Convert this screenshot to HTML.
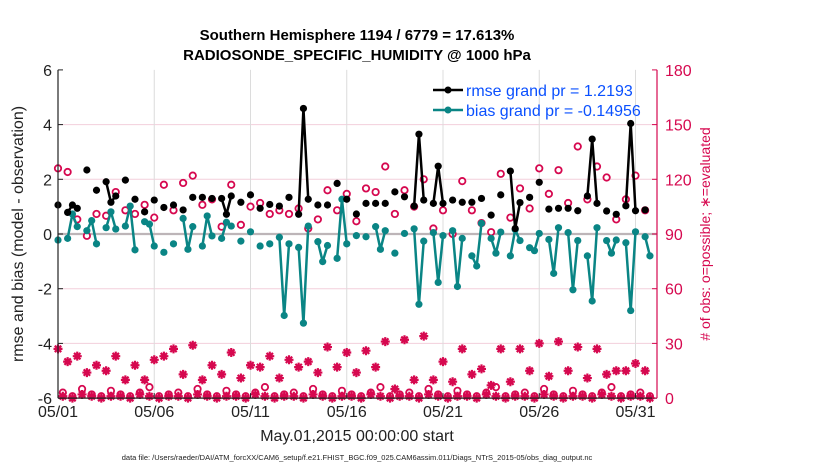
<!DOCTYPE html>
<html><head><meta charset="utf-8"><style>
body{margin:0;background:#fff;}
svg{display:block;font-family:"Liberation Sans",Arial,sans-serif;}
</style></head><body>
<svg id="chart" width="830" height="470" viewBox="0 0 830 470" xmlns="http://www.w3.org/2000/svg">
<rect width="830" height="470" fill="#fff"/>
<g id="grid"></g>
<g id="marks"></g>
<g id="axes"></g>
<text x="357" y="40" text-anchor="middle" font-size="15" font-weight="bold">Southern Hemisphere 1194 / 6779 = 17.613%</text>
<text x="357" y="60" text-anchor="middle" font-size="15" font-weight="bold">RADIOSONDE_SPECIFIC_HUMIDITY @ 1000 hPa</text>
<text x="357" y="441" text-anchor="middle" font-size="16" fill="#222">May.01,2015 00:00:00 start</text>
<text x="357" y="460" text-anchor="middle" font-size="7.5" fill="#222">data file: /Users/raeder/DAI/ATM_forcXX/CAM6_setup/f.e21.FHIST_BGC.f09_025.CAM6assim.011/Diags_NTrS_2015-05/obs_diag_output.nc</text>
<text transform="translate(23,234) rotate(-90)" text-anchor="middle" font-size="16" fill="#222">rmse and bias (model - observation)</text>
<text transform="translate(710,234) rotate(-90)" text-anchor="middle" font-size="14" fill="#d6084f"># of obs: o=possible; ∗=evaluated</text>
<g id="legend">
<line x1="433" y1="90" x2="463" y2="90" stroke="#000" stroke-width="2.5"/>
<circle cx="448" cy="90" r="3.5" fill="#000"/>
<text x="466" y="96" font-size="16" fill="#0a50ff">rmse grand pr = 1.2193</text>
<line x1="433" y1="110" x2="463" y2="110" stroke="#0a8585" stroke-width="2.5"/>
<circle cx="448" cy="110" r="3.5" fill="#0a8585"/>
<text x="466" y="116" font-size="16" fill="#0a50ff">bias grand pr = -0.14956</text>
</g>
</svg>
<script>
const dateTicks=["05/01","05/06","05/11","05/16","05/21","05/26","05/31"];
const dateTickDays=[0,5,10,15,20,25,30];
const leftTicks=[-6,-4,-2,0,2,4,6];
const rightTicks=[0,30,60,90,120,150,180];
const rmse=[1.06,null,0.79,1.06,0.94,null,2.34,null,1.6,null,1.91,1.16,1.39,null,1.97,null,1.27,null,0.81,null,1.24,null,0.97,null,1.06,null,0.88,null,1.34,null,1.34,null,1.3,null,1.3,0.72,1.39,null,1.16,null,1.43,null,0.94,null,1.08,null,1.02,null,1.34,null,0.72,4.59,1.27,null,1.06,null,1.06,null,1.85,null,1.27,null,0.73,null,1.12,null,1.12,null,1.12,null,1.54,null,1.36,null,1.02,3.65,1.24,null,1.12,2.48,1.12,null,1.24,null,1.16,null,1.16,null,1.3,null,0.69,null,1.43,null,2.3,0.2,1.15,null,1.34,null,1.89,null,0.91,null,0.94,null,0.94,null,0.85,null,1.39,3.47,1.12,null,0.84,null,0.72,null,1.03,4.04,0.85,null,0.88,null];
const bias=[-0.22,null,-0.16,0.73,0.27,null,0.12,0.49,-0.36,null,0.23,0.81,0.18,null,0.29,1.02,-0.58,null,0.45,0.36,-0.44,null,-0.67,null,-0.36,null,0.57,-0.56,0.27,null,-0.44,0.66,-0.07,null,-0.16,0.43,0.29,null,-0.26,null,0.08,null,-0.44,null,-0.36,null,-0.12,-2.98,-0.36,null,-0.49,-3.26,0.29,null,-0.28,-1.01,-0.42,null,-0.89,1.27,-0.36,null,-0.06,null,-0.1,null,0.27,-0.56,0.12,null,-0.7,null,0.02,null,0.19,-2.57,-0.26,null,0.05,-1.77,-0.06,null,0.12,-1.92,-0.16,null,-0.8,-1.17,0.39,null,-0.16,-0.7,0.07,null,-0.8,0.16,-0.24,null,-0.5,-0.61,0.02,null,-0.2,-1.44,0.23,null,0.05,-2.04,-0.24,null,-0.8,-2.45,0.23,null,-0.24,-0.7,-0.22,null,-0.32,-2.8,0.08,null,-0.1,-0.8];
const possible=[126,3,124,1,98,5,89,2,101,1,100,4,113,2,103,1,101,3,106,6,99,1,117,2,103,3,118,1,122,5,106,2,109,1,94,4,117,2,95,1,105,3,107,6,101,1,103,2,101,3,104,1,93,5,98,2,114,1,103,4,112,2,97,1,115,3,113,6,127,1,101,2,114,3,105,1,120,5,93,2,103,1,90,4,119,2,103,1,96,3,91,6,123,1,99,2,115,3,104,1,126,5,112,2,125,1,107,4,138,2,109,1,127,3,121,6,98,1,109,2,122,3,103,1];
const evaluated=[27,1,20,0,23,2,14,1,18,0,15,1,23,1,10,0,18,2,10,1,21,0,23,1,27,1,13,0,29,2,10,1,18,0,13,1,25,1,11,0,18,2,17,1,23,0,11,1,21,1,17,0,20,2,14,1,28,0,17,1,25,1,14,0,26,2,17,1,31,0,5,1,32,1,10,0,34,2,10,1,20,0,9,1,27,1,13,0,16,2,7,1,27,0,9,1,27,1,15,0,30,2,12,1,31,0,15,1,28,1,11,0,27,2,13,1,15,0,15,1,19,1,15,0];

const NS="http://www.w3.org/2000/svg";
const X0=58,X1=657,Y0=69.9,Y1=398.1,PX_DAY=19.25;
function xSlot(i){return X0+i*PX_DAY/4;}
function xDay(d){return X0+d*PX_DAY;}
function yL(v){return Y1-(v+6)/12*(Y1-Y0);}
function yR(n){return Y1-n/180*(Y1-Y0);}
function mk(tag,attrs,parent){const e=document.createElementNS(NS,tag);for(const k in attrs)e.setAttribute(k,attrs[k]);parent.appendChild(e);return e;}
const grid=document.getElementById('grid'),marks=document.getElementById('marks'),axes=document.getElementById('axes');

leftTicks.forEach(t=>{
  if(t===0||t===6||t===-6)return;
  const l=mk('line',{x1:X0,x2:X1,y1:yL(t),y2:yL(t),stroke:'#f3cfdc','stroke-width':1},grid);
  
  
});
dateTickDays.forEach(d=>{
  if(d===0)return;
  const l=mk('line',{x1:xDay(d),x2:xDay(d),y1:Y0,y2:Y1,stroke:'#dcdcdc','stroke-width':1},grid);
  
  
});
const z=mk('line',{x1:X0,x2:X1,y1:yL(0),y2:yL(0),stroke:'#bdb5b8','stroke-width':2.2},grid);



// possible circles
possible.forEach((n,i)=>{
  if(n==null)return;
  const c=mk('circle',{cx:xSlot(i),cy:yR(n),r:3.2,fill:'#fff',stroke:'#d6084f','stroke-width':1.8},marks);
  
  
});
// evaluated stars
evaluated.forEach((n,i)=>{
  if(n==null)return;
  const cx=xSlot(i),cy=yR(n);
  const s=mk('path',{d:`M${cx-4.5},${cy}H${cx+4.5}M${cx},${cy-4.5}V${cy+4.5}M${cx-3.2},${cy-3.2}L${cx+3.2},${cy+3.2}M${cx-3.2},${cy+3.2}L${cx+3.2},${cy-3.2}`,stroke:'#d6084f','stroke-width':2.2},marks);
  
  
});
function series(vals,color,name){
  let d='';let prev=false;
  vals.forEach((v,i)=>{
    if(v==null){prev=false;return;}
    d+=(prev?'L':'M')+xSlot(i).toFixed(2)+','+yL(v).toFixed(2);prev=true;
  });
  const p=mk('path',{d:d,fill:'none',stroke:color,'stroke-width':2.5,'stroke-linejoin':'round'},marks);
  
  
  vals.forEach((v,i)=>{
    if(v==null)return;
    const c=mk('circle',{cx:xSlot(i),cy:yL(v),r:3.6,fill:color},marks);
    
    
  });
}
series(bias,'#0a8585','bias');
series(rmse,'#000','rmse');

// axes
mk('line',{x1:X0,x2:X0,y1:Y0,y2:Y1,stroke:'#222','stroke-width':1.2},axes);
mk('line',{x1:X0,x2:X1,y1:Y1,y2:Y1,stroke:'#222','stroke-width':1.2},axes);
mk('line',{x1:X1,x2:X1,y1:Y0,y2:Y1,stroke:'#d6084f','stroke-width':1.2},axes);
leftTicks.forEach(t=>{
  mk('line',{x1:X0,x2:X0+5,y1:yL(t),y2:yL(t),stroke:'#222'},axes);
  const tx=mk('text',{x:X0-6,y:yL(t)+6,'text-anchor':'end','font-size':16,fill:'#222'},axes);
  tx.textContent=t;
  
  
});
rightTicks.forEach(t=>{
  mk('line',{x1:X1-5,x2:X1,y1:yR(t),y2:yR(t),stroke:'#d6084f'},axes);
  const tx=mk('text',{x:X1+8,y:yR(t)+6,'font-size':16,fill:'#d6084f'},axes);
  tx.textContent=t;
  
  
});
dateTicks.forEach((lab,k)=>{
  const x=xDay(dateTickDays[k]);
  mk('line',{x1:x,x2:x,y1:Y1,y2:Y1-5,stroke:'#222'},axes);
  const tx=mk('text',{x:x,y:417,'text-anchor':'middle','font-size':16,fill:'#222'},axes);
  tx.textContent=lab;
  
  
});
</script>
</body></html>
